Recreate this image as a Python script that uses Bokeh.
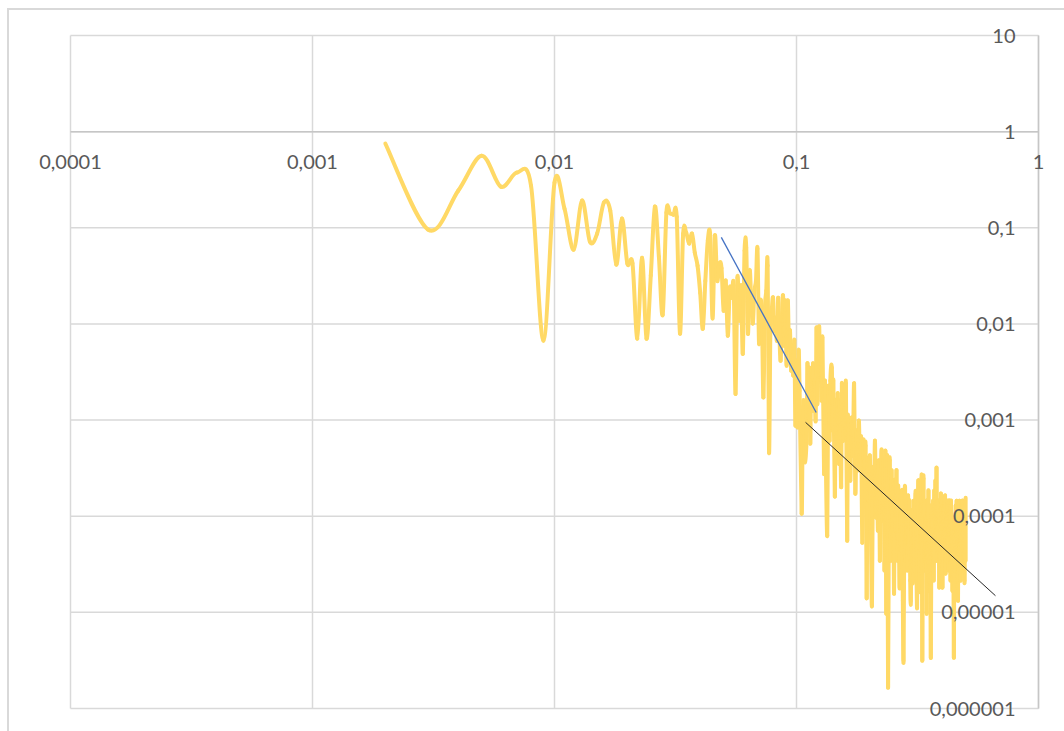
import numpy as np
from bokeh.plotting import figure
from bokeh.models import (Range1d, ColumnDataSource, LabelSet, InlineStyleSheet)
from bokeh.core.properties import value
from bokeh.embed import file_html
from bokeh.resources import INLINE

# Spectrum: frequency bins and their power
freq = [
    0.002, 0.003, 0.004, 0.005, 0.006, 0.007, 0.008, 0.009, 0.010, 0.011,
    0.012, 0.013, 0.014, 0.015, 0.016, 0.017, 0.018, 0.019, 0.020, 0.021,
    0.022, 0.023, 0.024, 0.025, 0.026, 0.027, 0.028, 0.029, 0.030, 0.031,
    0.032, 0.033, 0.034, 0.035, 0.036, 0.037, 0.038, 0.039, 0.040, 0.041,
    0.042, 0.043, 0.044, 0.045, 0.046, 0.047, 0.048, 0.049, 0.050, 0.051,
    0.052, 0.053, 0.054, 0.055, 0.056, 0.057, 0.058, 0.059, 0.060, 0.061,
    0.062, 0.063, 0.064, 0.065, 0.066, 0.067, 0.068, 0.069, 0.070, 0.071,
    0.072, 0.073, 0.074, 0.075, 0.076, 0.077, 0.078, 0.079, 0.080, 0.081,
    0.082, 0.083, 0.084, 0.085, 0.086, 0.087, 0.088, 0.089, 0.090, 0.091,
    0.092, 0.093, 0.094, 0.095, 0.096, 0.097, 0.098, 0.099, 0.100, 0.101,
    0.102, 0.103, 0.105, 0.106, 0.107, 0.108, 0.110, 0.111, 0.112, 0.113,
    0.114, 0.115, 0.116, 0.117, 0.118, 0.119, 0.120, 0.121, 0.122, 0.124,
    0.125, 0.126, 0.127, 0.128, 0.130, 0.131, 0.132, 0.134, 0.135, 0.136,
    0.137, 0.138, 0.140, 0.141, 0.142, 0.144, 0.145, 0.147, 0.148, 0.150,
    0.151, 0.153, 0.154, 0.156, 0.157, 0.159, 0.160, 0.162, 0.163, 0.164,
    0.165, 0.167, 0.169, 0.171, 0.173, 0.175, 0.177, 0.179, 0.181, 0.183,
    0.185, 0.187, 0.189, 0.191, 0.193, 0.195, 0.197, 0.199, 0.201, 0.203,
    0.205, 0.207, 0.209, 0.211, 0.213, 0.215, 0.217, 0.219, 0.221, 0.223,
    0.225, 0.227, 0.229, 0.231, 0.233, 0.235, 0.237, 0.239, 0.241, 0.243,
    0.245, 0.247, 0.249, 0.251, 0.253, 0.255, 0.257, 0.259, 0.261, 0.263,
    0.265, 0.267, 0.269, 0.271, 0.273, 0.275, 0.277, 0.279, 0.281, 0.283,
    0.285, 0.287, 0.289, 0.291, 0.293, 0.295, 0.297, 0.299, 0.301, 0.303,
    0.305, 0.307, 0.309, 0.311, 0.313, 0.315, 0.317, 0.319, 0.321, 0.323,
    0.325, 0.327, 0.329, 0.331, 0.333, 0.335, 0.337, 0.339, 0.341, 0.343,
    0.345, 0.347, 0.349, 0.351, 0.353, 0.355, 0.357, 0.359, 0.361, 0.363,
    0.365, 0.367, 0.369, 0.371, 0.373, 0.375, 0.377, 0.379, 0.381, 0.383,
    0.385, 0.387, 0.389, 0.391, 0.393, 0.395, 0.397, 0.399, 0.401, 0.403,
    0.405, 0.407, 0.409, 0.411, 0.413, 0.415, 0.417, 0.419, 0.421, 0.423,
    0.425, 0.427, 0.429, 0.431, 0.433, 0.435, 0.437, 0.439, 0.441, 0.443,
    0.445, 0.447, 0.449, 0.451, 0.453, 0.455, 0.457, 0.459, 0.461, 0.463,
    0.465, 0.467, 0.469, 0.471, 0.473, 0.475, 0.477, 0.479, 0.481, 0.483,
    0.485, 0.487, 0.489, 0.491, 0.493, 0.495, 0.497, 0.499, 0.500,
]

power = [
    0.75, 0.096, 0.243, 0.562, 0.268, 0.375, 0.274, 0.0067, 0.295, 0.158,
    0.0593, 0.192, 0.0718, 0.0869, 0.183, 0.151, 0.0414, 0.125, 0.0424, 0.0427,
    0.00703, 0.0489, 0.00703, 0.032, 0.166, 0.05, 0.0125, 0.144, 0.141, 0.137,
    0.13, 0.00792, 0.0869, 0.089, 0.0684, 0.0869, 0.055, 0.0404, 0.021, 0.0089,
    0.028, 0.0735, 0.083, 0.0114, 0.083, 0.0282, 0.0424, 0.038, 0.0137, 0.0282,
    0.00755, 0.0238, 0.0187, 0.025, 0.00187, 0.0303, 0.0108, 0.025, 0.0049, 0.0578,
    0.062, 0.0079, 0.0358, 0.0175, 0.0101, 0.0222, 0.0282, 0.0605, 0.0063, 0.0175,
    0.0108, 0.00172, 0.0137, 0.0222, 0.0404, 0.00046, 0.0085, 0.0137, 0.0187, 0.0085,
    0.0116, 0.0067, 0.0187, 0.00755, 0.00415, 0.0108, 0.0197, 0.00594, 0.0175, 0.00368,
    0.0175, 0.0067, 0.0085, 0.00327, 0.00594, 0.0029, 0.0067, 0.000875, 0.00415, 0.00084,
    0.00527, 0.00202, 0.000107, 0.00074, 0.00159, 0.00038, 0.00061, 0.0039, 0.00099, 0.0035,
    0.00057, 0.00327, 0.00125, 0.0039, 0.00125, 0.00257, 0.00099, 0.0092, 0.00146, 0.0094,
    0.0027, 0.0067, 0.00159, 0.0072, 0.000275, 0.00257, 0.00048, 0.000063, 0.00159, 0.0019,
    0.00061, 0.00257, 0.0035, 0.00078, 0.00257, 0.00016, 0.00159, 0.00057, 0.0019, 0.00035,
    0.00159, 0.0002, 0.0024, 0.00061, 0.00228, 0.00072, 0.0024, 0.0000557, 0.00106, 0.00048,
    0.00099, 0.000234, 0.00106, 0.000427, 0.0024, 0.000173, 0.00078, 0.0003, 0.00099, 0.0003,
    0.00065, 0.000053, 0.00061, 0.000234, 0.00054, 0.000014, 0.00038, 0.000145, 0.000427, 0.0000708,
    0.0000118, 0.0003, 0.000145, 0.00061, 0.000097, 0.0003, 0.0000708, 0.00038, 0.0000345, 0.000234,
    0.00048, 0.00009, 0.00038, 0.0000272, 0.00048, 0.0000097, 0.000427, 0.00000165, 0.000145, 0.000379,
    0.0000345, 0.0003, 0.0000557, 0.000234, 0.0000156, 0.000234, 0.0000708, 0.0003, 0.0000345, 0.000208,
    0.0000557, 0.0000181, 0.000164, 0.0000439, 0.000185, 0.0000132, 0.00000315, 0.00009, 0.000198, 0.0000345,
    0.000145, 0.0000272, 0.000164, 0.0000494, 0.000145, 0.0000214, 0.0000132, 0.000114, 0.0000345, 0.0000214,
    0.000145, 0.0000272, 0.000114, 0.000172, 0.0000345, 0.0000112, 0.00009, 0.000234, 0.0000439, 0.0000168,
    0.000145, 0.0000557, 0.000252, 0.00000315, 0.000114, 0.000246, 0.0000272, 0.000145, 0.0000345, 0.00009,
    0.0000097, 0.000145, 0.0000345, 0.000185, 0.0000168, 0.00009, 0.0000345, 0.00000338, 0.0000708, 0.000123,
    0.0000272, 0.000145, 0.0000214, 0.000185, 0.0000345, 0.000234, 0.0000557, 0.00032, 0.0000345, 0.000145,
    0.0000439, 0.000145, 0.0000181, 0.000114, 0.0000345, 0.000172, 0.0000439, 0.000145, 0.0000181, 0.000129,
    0.0000345, 0.000145, 0.0000439, 0.000164, 0.0000253, 0.000114, 0.0000345, 0.000145, 0.0000494, 0.000129,
    0.0000272, 0.000145, 0.0000557, 0.000114, 0.0000214, 0.000145, 0.0000345, 0.00009, 0.0000168, 0.0000708,
    0.0000345, 0.00000338, 0.0000557, 0.00009, 0.0000272, 0.000129, 0.0000345, 0.000145, 0.0000439, 0.000114,
    0.0000132, 0.000129, 0.0000272, 0.000145, 0.0000345, 0.00009, 0.0000214, 0.000129, 0.0000345, 0.000145,
    0.0000439, 0.000145, 0.0000272, 0.000129, 0.0000345, 0.0000214, 0.000129, 0.0000345, 0.000156,
]

# Power-law trend lines (end points)
trend_steep_x = [0.0489, 0.1206]
trend_steep_y = [0.0795, 0.0012]
trend_tail_x = [0.109, 0.664]
trend_tail_y = [0.000947, 0.0000149]

# Decade ticks and their (comma-decimal) labels
x_ticks = [0.0001, 0.001, 0.01, 0.1, 1]
x_tick_labels = ["0,0001", "0,001", "0,01", "0,1", "1"]
y_ticks = [0.000001, 0.00001, 0.0001, 0.001, 0.01, 0.1, 1, 10]
y_tick_labels = ["0,000001", "0,00001", "0,0001", "0,001", "0,01", "0,1", "1", "10"]

GRID = "#D9D9D9"
AXIS = "#C6C6C6"
LABEL = "#595959"
FONT = "Lato"

W, H = 1064, 731
# plot area inside the canvas (pixels): left, right, top, bottom
PL, PR, PT, PB = 70, 1038, 35, 708
x_lo, x_hi = np.log10(x_ticks[0]), np.log10(x_ticks[-1])
y_lo, y_hi = np.log10(y_ticks[0]), np.log10(y_ticks[-1])
px_per_dec_x = (PR - PL) / (x_hi - x_lo)
px_per_dec_y = (PB - PT) / (y_hi - y_lo)
# the frame fills the whole canvas so labels at the edges are not clipped
xr = Range1d(10 ** (x_lo - PL / px_per_dec_x), 10 ** (x_hi + (W - PR) / px_per_dec_x))
yr = Range1d(10 ** (y_lo - (H - PB) / px_per_dec_y), 10 ** (y_hi + PT / px_per_dec_y))

p = figure(width=W, height=H, title=None,
           x_axis_type="log", y_axis_type="log",
           x_range=xr, y_range=yr,
           x_axis_location=None, y_axis_location=None,
           output_backend="svg", toolbar_location=None,
           min_border_left=0, min_border_right=0,
           min_border_top=0, min_border_bottom=0)
p.background_fill_color = "white"
p.border_fill_color = "white"
p.outline_line_color = None
p.grid.visible = False

n_x, n_y = len(x_ticks), len(y_ticks)
# gridlines of the plot area
p.segment(x0=x_ticks, y0=[y_ticks[0]] * n_x, x1=x_ticks, y1=[y_ticks[-1]] * n_x,
          line_color=GRID, line_width=1.5)
p.segment(x0=[x_ticks[0]] * n_y, y0=y_ticks, x1=[x_ticks[-1]] * n_y, y1=y_ticks,
          line_color=GRID, line_width=1.5)
# axes cross at y = 1 and x = 1
p.segment(x0=[x_ticks[0], 1], y0=[1, y_ticks[0]], x1=[x_ticks[-1], 1], y1=[1, y_ticks[-1]],
          line_color=AXIS, line_width=1.5)

# Smoothed spectrum: cubic Bezier segments through the points (in log space)
fx = np.asarray(freq)
fy = np.asarray(power)
lx = np.log10(fx)
ly = np.log10(fy)
n = len(lx)
i = np.arange(n - 1)
prev_i = np.maximum(i - 1, 0)
next_i = np.minimum(i + 2, n - 1)
c0x = lx[i] + (lx[i + 1] - lx[prev_i]) / 6.0
c0y = ly[i] + (ly[i + 1] - ly[prev_i]) / 6.0
c1x = lx[i + 1] - (lx[next_i] - lx[i]) / 6.0
c1y = ly[i + 1] - (ly[next_i] - ly[i]) / 6.0

seg = ColumnDataSource(dict(
    x0=fx[:-1], y0=fy[:-1], x1=fx[1:], y1=fy[1:],
    cx0=10 ** c0x, cy0=10 ** c0y, cx1=10 ** c1x, cy1=10 ** c1y,
))
p.bezier(x0="x0", y0="y0", x1="x1", y1="y1",
         cx0="cx0", cy0="cy0", cx1="cx1", cy1="cy1", source=seg,
         line_color="#FFD966", line_width=4, line_cap="round", line_join="round")

p.line(trend_steep_x, trend_steep_y, line_color="#4472C4", line_width=1.3)
p.line(trend_tail_x, trend_tail_y, line_color="#262626", line_width=1)

# tick labels
xlab = ColumnDataSource(dict(x=x_ticks, y=[1] * n_x, text=x_tick_labels))
p.add_layout(LabelSet(x="x", y="y", text="text", source=xlab,
                      y_offset=-30, text_align="center", text_baseline="middle",
                      text_font=value(FONT), text_font_size="20px", text_color=LABEL))
ylab = ColumnDataSource(dict(x=[1] * n_y, y=y_ticks, text=y_tick_labels))
p.add_layout(LabelSet(x="x", y="y", text="text", source=ylab,
                      x_offset=-23, text_align="right", text_baseline="middle",
                      text_font=value(FONT), text_font_size="20px", text_color=LABEL))

# chart-area border
p.stylesheets = [InlineStyleSheet(css="""
:host::after { content: ""; position: absolute; left: 7px; top: 8px; right: 0; bottom: 0;
  border-left: 2px solid #D9D9D9; border-top: 2px solid #D9D9D9; pointer-events: none; }
""")]

open("out.html", "w").write(file_html(p, INLINE))
